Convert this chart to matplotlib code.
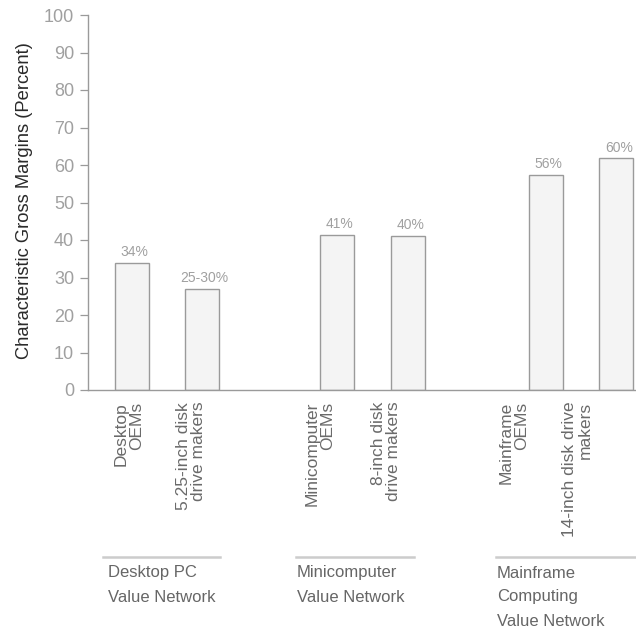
import matplotlib
matplotlib.use("Agg")
import matplotlib.pyplot as plt
from matplotlib.transforms import blended_transform_factory

plt.rcParams['font.family'] = ['Liberation Sans', 'DejaVu Sans']

# data
bar_labels = ["Desktop\nOEMs", "5.25-inch disk\ndrive makers",
              "Minicomputer\nOEMs", "8-inch disk\ndrive makers",
              "Mainframe\nOEMs", "14-inch disk drive\nmakers"]
margins = [34, 27, 41.3, 41.1, 57.3, 61.8]
margin_text = ["34%", "25-30%", "41%", "40%", "56%", "60%"]
networks = ["Desktop PC\nValue Network", "Minicomputer\nValue Network",
            "Mainframe\nComputing\nValue Network"]

# layout
x_pos = [0, 2, 5.86, 7.89, 11.83, 13.83]
label_shift = [-0.09, -0.31, -0.49, -0.63, -0.91, -1.11]
group_span = [(-0.83, 2.51), (4.69, 8.06), (10.4, 14.6)]
group_text_x = [-0.69, 4.71, 10.43]

W, H = 636, 633
fig = plt.figure(figsize=(W / 100, H / 100), dpi=100)
ax = fig.add_axes([88 / W, 1 - 390 / H, 1 - 88 / W, 375 / H])

bars = ax.bar(x_pos, margins, width=0.97, color="#f4f4f4",
              edgecolor="#9a9a9a", linewidth=1.0)
for b, t in zip(bars, margin_text):
    ax.text(b.get_x() + b.get_width() / 2 + 0.08, b.get_height() + 1.0, t,
            ha="center", va="bottom", fontsize=10, color="#a0a0a0")

ax.set_xlim(-1.257, 14.4)
ax.set_ylim(0, 100)
ax.set_yticks(range(0, 101, 10))
ax.tick_params(axis="y", colors="#9a9a9a", labelsize=13, length=6,
               width=0.9, pad=4, labelcolor="#a0a0a0")
ax.set_xticks([x + s for x, s in zip(x_pos, label_shift)])
ax.set_xticklabels(bar_labels, rotation=90, va="top", ha="center",
                   multialignment="right", fontsize=12.5, color="#6a6a6a",
                   linespacing=1.05)
ax.tick_params(axis="x", length=0, pad=8.5)

for side in ["top", "right"]:
    ax.spines[side].set_visible(False)
for side in ["left", "bottom"]:
    ax.spines[side].set_color("#9a9a9a")
    ax.spines[side].set_linewidth(1.0)

ax.set_ylabel("Characteristic Gross Margins (Percent)", fontsize=13.2,
              color="#2a2a2a")
ax.yaxis.set_label_coords(-0.1, 0.504)

tr = blended_transform_factory(ax.transData, ax.transAxes)
for (x0, x1), tx, name in zip(group_span, group_text_x, networks):
    ax.plot([x0, x1], [-0.445, -0.445], transform=tr, color="#cccccc",
            linewidth=1.8, clip_on=False)
    ax.text(tx, -0.468, name, transform=tr, ha="left", va="top",
            fontsize=12, color="#666666", linespacing=1.75)

fig.savefig("out.png", dpi=100, facecolor="white")
